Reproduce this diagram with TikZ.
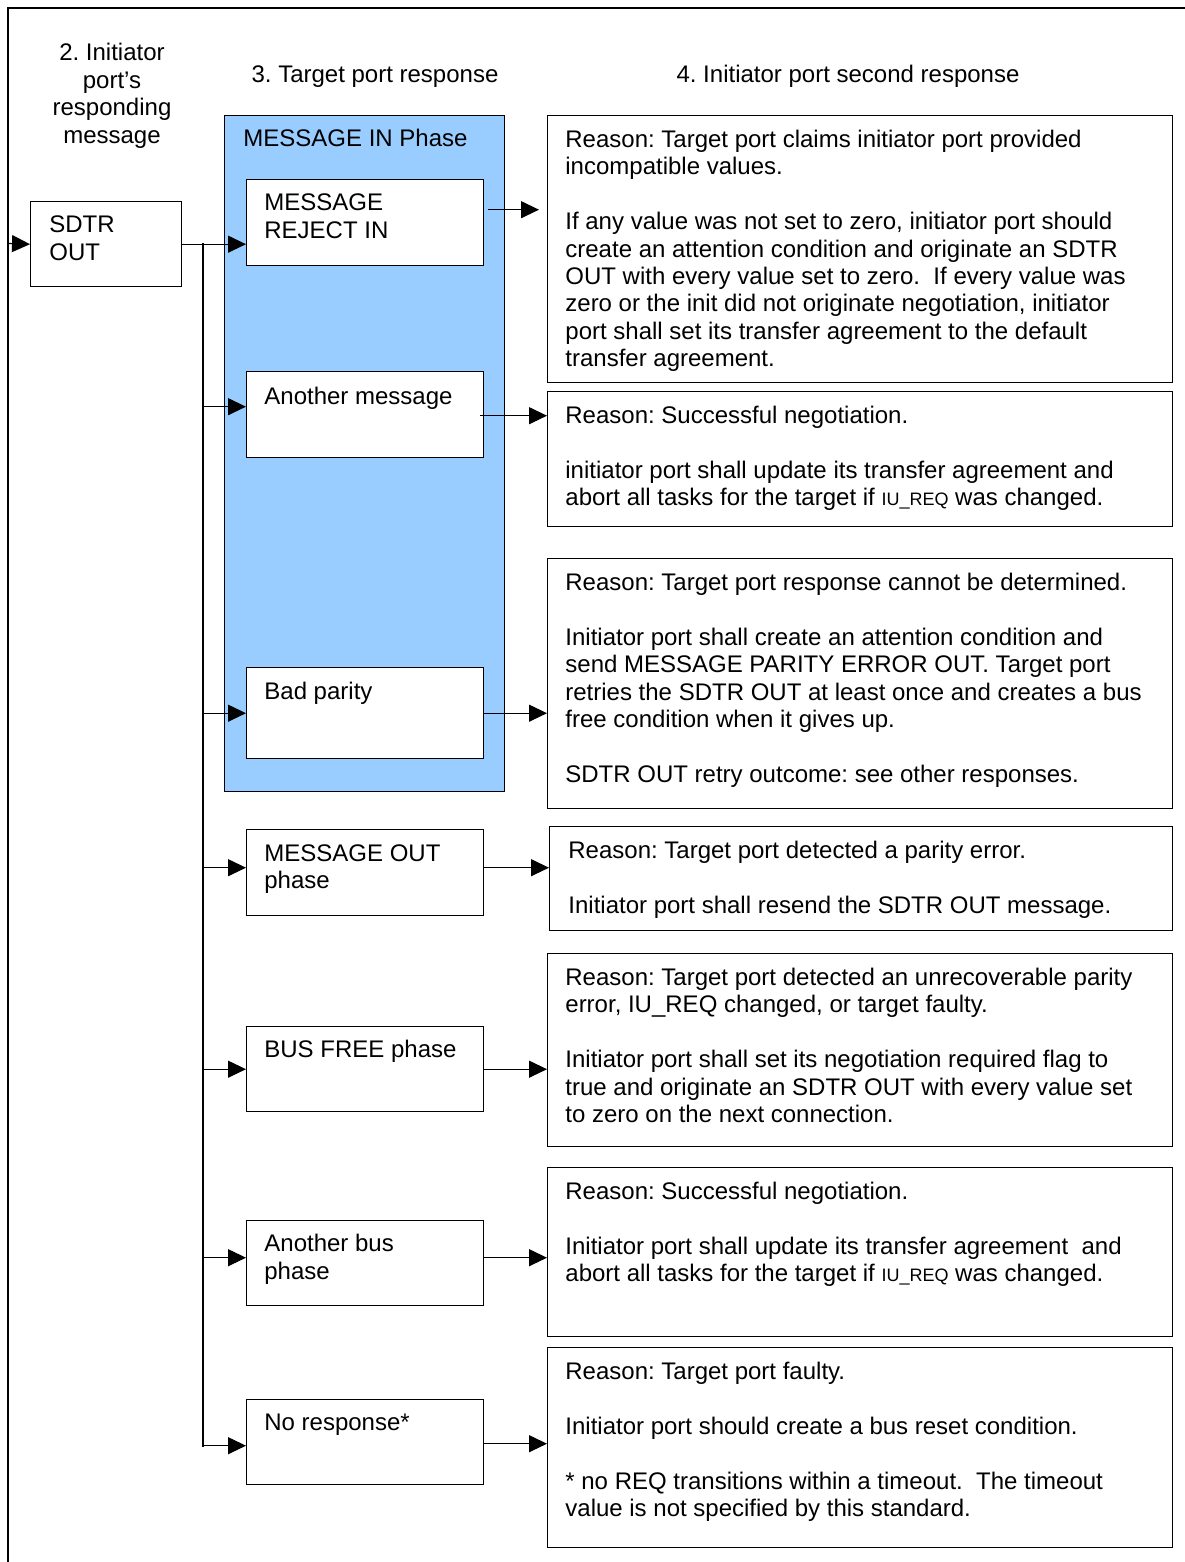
\documentclass[tikz,border=0pt]{standalone}
\usepackage{fontspec}
\setmainfont{Liberation Sans}
\usetikzlibrary{arrows.meta}
\definecolor{phaseblue}{HTML}{99CCFF}
\newcommand{\iureq}{{\fontsize{9}{10}\selectfont IU\_REQ}}
\newcommand{\st}{\rule{0pt}{9pt}}
\frenchspacing
\begin{document}
\begin{tikzpicture}[x=0.5pt,y=-0.5pt,
 box/.style={draw, line width=0.7pt, fill=white, anchor=north west, inner sep=0pt},
 txt/.style={anchor=north west, inner sep=0pt, align=left, font=\fontsize{12}{13.7}\selectfont\frenchspacing},
 hdr/.style={inner sep=0pt, align=center, font=\fontsize{12}{13.7}\selectfont\frenchspacing},
 arr/.style={line width=0.6pt, -{Triangle[length=9pt,width=8.5pt]}},
 ln/.style={line width=0.6pt}]
\useasboundingbox (0,0) rectangle (1184,1562);
\fill[white] (0,0) rectangle (1184,1562);
% outer frame
\draw[line width=1.3pt] (8,1570) -- (8,8) -- (1190,8);

% headers
\node[hdr, anchor=north] (h2) at (112,42.6) {\st 2. Initiator\\port’s\\responding\\message};
\node[hdr, anchor=base] (h3) at (375,82.6) {3. Target port response};
\node[hdr, anchor=base] (h4) at (848,82.6) {4. Initiator port second response};

% SDTR OUT
\node[box, minimum width=75.5pt, minimum height=42.5pt] (sdtr) at (30,201) {};
\node[txt] (sdtrt) at ([xshift=9.5pt,yshift=-6.8pt]sdtr.north west) {\st SDTR\\OUT};

% phase box
\node[box, fill=phaseblue, minimum width=140pt, minimum height=338pt] (phase) at (224,115) {};
\node[txt, anchor=base west] (phaset) at (243,146.6) {MESSAGE IN Phase};

% inner boxes
\node[box, minimum width=118.5pt, minimum height=43pt] (mri) at (246,179) {};
\node[txt] (mrit) at ([xshift=9pt,yshift=-6.8pt]mri.north west) {\st MESSAGE\\REJECT IN};
\node[box, minimum width=118.5pt, minimum height=43pt] (am) at (246,371) {};
\node[txt] (amt) at ([xshift=9pt,yshift=-7.5pt]am.north west) {\st Another message};
\node[box, minimum width=118.5pt, minimum height=45.5pt] (bp) at (246,667) {};
\node[txt] (bpt) at ([xshift=9pt,yshift=-7pt]bp.north west) {\st Bad parity};
\node[box, minimum width=118.5pt, minimum height=43pt] (mo) at (246,829) {};
\node[txt] (mot) at ([xshift=9pt,yshift=-7pt]mo.north west) {\st MESSAGE OUT\\phase};
\node[box, minimum width=118.5pt, minimum height=42.5pt] (bf) at (246,1026) {};
\node[txt] (bft) at ([xshift=9pt,yshift=-6.6pt]bf.north west) {\st BUS FREE phase};
\node[box, minimum width=118.5pt, minimum height=42.5pt] (ab) at (246,1220) {};
\node[txt] (abt) at ([xshift=9pt,yshift=-6.6pt]ab.north west) {\st Another bus\\phase};
\node[box, minimum width=118.5pt, minimum height=42.5pt] (nr) at (246,1399) {};
\node[txt] (nrt) at ([xshift=9pt,yshift=-6.6pt]nr.north west) {\st No response*};

% right boxes
\node[box, minimum width=312.5pt, minimum height=133.5pt] (r1) at (547,115) {};
\node[txt] (r1t) at ([xshift=9pt,yshift=-7pt]r1.north west) {\st Reason: Target port claims initiator port provided\\
incompatible values.\\[13.7pt]
If any value was not set to zero, initiator port should\\
create an attention condition and originate an SDTR\\
OUT with every value set to zero.\ \ If every value was\\
zero or the init did not originate negotiation, initiator\\
port shall set its transfer agreement to the default\\
transfer agreement.};

\node[box, minimum width=312.5pt, minimum height=67.5pt] (r2) at (547,391) {};
\node[txt] (r2t) at ([xshift=9pt,yshift=-7pt]r2.north west) {\st Reason: Successful negotiation.\\[13.7pt]
initiator port shall update its transfer agreement and\\
abort all tasks for the target if \iureq{} was changed.};

\node[box, minimum width=312.5pt, minimum height=125pt] (r3) at (547,558) {};
\node[txt] (r3t) at ([xshift=9pt,yshift=-7pt]r3.north west) {\st Reason: Target port response cannot be determined.\\[13.7pt]
Initiator port shall create an attention condition and\\
send MESSAGE PARITY ERROR OUT. Target port\\
retries the SDTR OUT at least once and creates a bus\\
free condition when it gives up.\\[13.7pt]
SDTR OUT retry outcome: see other responses.};

\node[box, minimum width=311.5pt, minimum height=52pt] (r4) at (549,826) {};
\node[txt] (r4t) at ([xshift=9.5pt,yshift=-7pt]r4.north west) {\st Reason: Target port detected a parity error.\\[13.7pt]
Initiator port shall resend the SDTR OUT message.};

\node[box, minimum width=312.5pt, minimum height=96.5pt] (r5) at (547,953) {};
\node[txt] (r5t) at ([xshift=9pt,yshift=-7pt]r5.north west) {\st Reason: Target port detected an unrecoverable parity\\
error, IU\_REQ changed, or target faulty.\\[13.7pt]
Initiator port shall set its negotiation required flag to\\
true and originate an SDTR OUT with every value set\\
to zero on the next connection.};

\node[box, minimum width=312.5pt, minimum height=84.5pt] (r6) at (547,1167) {};
\node[txt] (r6t) at ([xshift=9pt,yshift=-7pt]r6.north west) {\st Reason: Successful negotiation.\\[13.7pt]
Initiator port shall update its transfer agreement\ \ and\\
abort all tasks for the target if \iureq{} was changed.};

\node[box, minimum width=312.5pt, minimum height=100pt] (r7) at (547,1347) {};
\node[txt] (r7t) at ([xshift=9pt,yshift=-7pt]r7.north west) {\st Reason: Target port faulty.\\[13.7pt]
Initiator port should create a bus reset condition.\\[13.7pt]
* no REQ transitions within a timeout.\ \ The timeout\\
value is not specified by this standard.};

% connectors: input
\coordinate (in) at (8,243.5);
\draw[arr] (in) -- (sdtr.west);
% trunk
\coordinate (trtop) at (203,243.5);
\coordinate (trbot) at (203,1447);
\draw[ln] (trtop) -- (trbot);
\draw[arr] (sdtr.east) -- (sdtr.east -| mri.west);
\draw[arr] (trtop |- am.west) ++(0,-8) -- ([yshift=4pt]am.west);
\draw[arr] (trtop |- bp.west) -- (bp.west);
\draw[arr] (trtop |- mo.west) ++(0,-5) -- ([yshift=2.5pt]mo.west);
\draw[arr] (trtop |- bf.west) -- (bf.west);
\draw[arr] (trtop |- ab.west) ++(0,-5.5) -- ([yshift=2.75pt]ab.west);
\draw[arr] (trtop |- nr.west) ++(0,3.5) -- ([yshift=-1.75pt]nr.west);

% right arrows
\coordinate (m1a) at ([xshift=2pt,yshift=6.5pt]mri.east);
\coordinate (m1b) at ([xshift=-4pt]m1a -| r1.west);
\draw[arr] (m1a) -- (m1b);
\coordinate (m2a) at ([xshift=-2pt,yshift=-0.5pt]am.east);
\draw[arr] (m2a) -- (m2a -| r2.west);
\draw[arr] (bp.east) -- (bp.east -| r3.west);
\coordinate (m4a) at ([yshift=2.5pt]mo.east);
\draw[arr] (m4a) -- (m4a -| r4.west);
\draw[arr] (bf.east) -- (bf.east -| r5.west);
\coordinate (m6a) at ([yshift=2.75pt]ab.east);
\draw[arr] (m6a) -- (m6a -| r6.west);
\coordinate (m7a) at ([yshift=-0.75pt]nr.east);
\draw[arr] (m7a) -- (m7a -| r7.west);
\end{tikzpicture}
\end{document}
